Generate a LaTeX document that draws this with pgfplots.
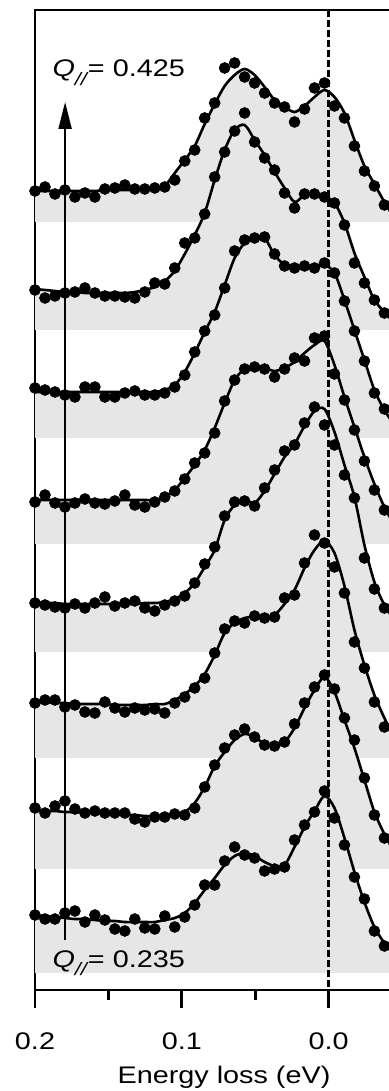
\documentclass[border=0pt]{standalone}
\usepackage{fontspec}
\setmainfont{Liberation Sans}[FakeStretch=1.2]
\usepackage{pgfplots}
\pgfplotsset{compat=1.18}
\usepackage{pgfplotstable}
\usepgfplotslibrary{fillbetween}
\usetikzlibrary{arrows.meta}
\definecolor{fillgray}{RGB}{230,230,230}

% columns: x = energy loss (eV), d = data points, f = fitted curve (offset intensity)
\pgfplotstableread{
x d f
0.2000 75 75
0.1932 71 74
0.1864 71 73
0.1796 77 72
0.1728 79 71
0.1660 68 71
0.1592 75 70
0.1524 70 69
0.1456 61 69
0.1388 59 68
0.1320 71 68
0.1252 62 68
0.1184 61 68
0.1116 74 70
0.1048 63 72
0.0980 73 77
0.0912 85 87
0.0844 105 100
0.0776 105 112
0.0708 129 125
0.0640 143 134
0.0572 135 137
0.0504 132 134
0.0436 119 128
0.0368 121 124
0.0300 123 125
0.0232 150 143
0.0164 165 163
0.0096 178 179
0.0028 199 194
-0.0040 172 182
-0.0108 145 152
-0.0176 113 118
-0.0244 91 88
-0.0312 59 63
-0.0380 44 47
-0.0448 nan 35
}\tSone
\pgfplotstableread{
x d f
0.2000 182 180
0.1932 177 179
0.1864 184 179
0.1796 189 178
0.1728 181 178
0.1660 177 177
0.1592 179 177
0.1524 177 176
0.1456 177 176
0.1388 177 175
0.1320 171 175
0.1252 168 174
0.1184 173 174
0.1116 173 174
0.1048 176 175
0.0980 175 178
0.0912 182 187
0.0844 203 203
0.0776 225 224
0.0708 242 238
0.0640 255 250
0.0572 261 256
0.0504 253 253
0.0436 245 246
0.0368 244 244
0.0300 248 248
0.0232 266 262
0.0164 287 282
0.0096 303 300
0.0028 315 313
-0.0040 301 298
-0.0108 272 270
-0.0176 250 242
-0.0244 212 210
-0.0312 175 178
-0.0380 152 156
-0.0448 nan 138
}\tStwo
\pgfplotstableread{
x d f
0.2000 287 288
0.1932 290 288
0.1864 290 287
0.1796 283 287
0.1728 285 286
0.1660 278 286
0.1592 277 286
0.1524 288 286
0.1456 282 285
0.1388 278 285
0.1320 282 285
0.1252 280 285
0.1184 281 286
0.1116 277 286
0.1048 287 290
0.0980 293 296
0.0912 302 304
0.0844 312 316
0.0776 337 335
0.0708 361 357
0.0640 369 367
0.0572 367 372
0.0504 374 373
0.0436 372 372
0.0368 373 375
0.0300 392 386
0.0232 395 400
0.0164 427 422
0.0096 455 440
0.0028 447 449
-0.0040 423 437
-0.0108 397 404
-0.0176 348 360
-0.0244 322 325
-0.0312 288 295
-0.0380 263 272
-0.0448 nan 252
}\tSthree
\pgfplotstableread{
x d f
0.2000 387 388
0.1932 385 387
0.1864 383 387
0.1796 382 386
0.1728 386 386
0.1660 382 386
0.1592 387 386
0.1524 393 386
0.1456 384 386
0.1388 387 386
0.1320 389 386
0.1252 382 387
0.1184 379 387
0.1116 385 388
0.1048 389 391
0.0980 394 397
0.0912 407 407
0.0844 426 423
0.0776 443 440
0.0708 474 470
0.0640 488 485
0.0572 489 490
0.0504 484 487
0.0436 502 499
0.0368 520 516
0.0300 539 533
0.0232 545 546
0.0164 567 564
0.0096 583 579
0.0028 565 581
-0.0040 545 558
-0.0108 515 525
-0.0176 492 493
-0.0244 432 445
-0.0312 401 408
-0.0380 382 385
-0.0448 nan 370
}\tSfour
\pgfplotstableread{
x d f
0.2000 488 490
0.1932 495 490
0.1864 487 490
0.1796 483 490
0.1728 487 490
0.1660 491 490
0.1592 487 490
0.1524 486 490
0.1456 489 490
0.1388 495 490
0.1320 485 490
0.1252 483 490
0.1184 488 490
0.1116 493 493
0.1048 499 500
0.0980 511 512
0.0912 527 525
0.0844 537 540
0.0776 557 562
0.0708 589 587
0.0640 610 610
0.0572 621 621
0.0504 623 624
0.0436 621 622
0.0368 613 619
0.0300 621 622
0.0232 632 628
0.0164 629 637
0.0096 652 645
0.0028 654 649
-0.0040 616 625
-0.0108 590 593
-0.0176 560 563
-0.0244 529 533
-0.0312 500 506
-0.0380 480 483
-0.0448 nan 465
}\tSfive
\pgfplotstableread{
x d f
0.2000 602 598
0.1932 600 598
0.1864 598 598
0.1796 595 598
0.1728 593 598
0.1660 603 598
0.1592 603 598
0.1524 593 598
0.1456 593 598
0.1388 597 598
0.1320 599 598
0.1252 595 598
0.1184 595 598
0.1116 597 600
0.1048 603 605
0.0980 615 618
0.0912 638 637
0.0844 659 658
0.0776 675 678
0.0708 702 705
0.0640 739 732
0.0572 750 747
0.0504 752 753
0.0436 753 752
0.0368 736 735
0.0300 724 725
0.0232 722 721
0.0164 724 722
0.0096 722 723
0.0028 727 725
-0.0040 717 717
-0.0108 689 690
-0.0176 659 660
-0.0244 629 630
-0.0312 597 600
-0.0380 581 580
-0.0448 nan 565
}\tSsix
\pgfplotstableread{
x d f
0.2000 700 701
0.1932 692 700
0.1864 694 699
0.1796 697 698
0.1728 698 698
0.1660 702 697
0.1592 697 697
0.1524 694 697
0.1456 694 697
0.1388 693 697
0.1320 692 698
0.1252 698 700
0.1184 707 703
0.1116 706 709
0.1048 722 719
0.0980 747 736
0.0912 752 755
0.0844 776 777
0.0776 813 810
0.0708 838 840
0.0640 859 860
0.0572 877 865
0.0504 848 850
0.0436 832 835
0.0368 820 818
0.0300 797 802
0.0232 782 788
0.0164 796 795
0.0096 796 796
0.0028 793 793
-0.0040 787 787
-0.0108 765 767
-0.0176 727 737
-0.0244 707 713
-0.0312 690 690
-0.0380 677 678
-0.0448 nan 667
}\tSseven
\pgfplotstableread{
x d f
0.2000 799 799
0.1932 803 799
0.1864 796 799
0.1796 800 799
0.1728 793 799
0.1660 797 799
0.1592 793 799
0.1524 801 800
0.1456 802 800
0.1388 805 800
0.1320 801 800
0.1252 801 801
0.1184 802 802
0.1116 803 804
0.1048 810 817
0.0980 829 830
0.0912 840 844
0.0844 872 866
0.0776 887 886
0.0708 922 904
0.0640 927 915
0.0572 913 921
0.0504 907 915
0.0436 897 903
0.0368 887 890
0.0300 883 883
0.0232 868 878
0.0164 881 884
0.0096 902 893
0.0028 907 900
-0.0040 884 893
-0.0108 872 877
-0.0176 844 850
-0.0244 819 824
-0.0312 804 806
-0.0380 785 788
-0.0448 nan 772
}\tSeight

\newcommand{\fillspec}[3]{%
  \addplot[draw=none, smooth, name path=f#1, forget plot] table[x=x,y=f]{#2};
  \addplot[draw=none, name path=b#1, forget plot] coordinates {(0.2,#3) (-0.0448,#3)};
  \addplot[fill=fillgray, draw=none, forget plot] fill between[of=f#1 and b#1];
}
\newcommand{\drawspec}[1]{%
  \addplot[black, line width=1.3pt, smooth, forget plot] table[x=x,y=f]{#1};
  \addplot[black, only marks, mark=*, mark size=2.7pt, forget plot] table[x=x,y=d]{#1};
}
\newcommand{\qlab}[1]{{\itshape Q}\raisebox{-4.5pt}{\fontsize{9}{9}\selectfont\itshape //}\kern0.5pt= #1}

\begin{document}
\begin{tikzpicture}
\begin{axis}[
  name=ax, scale only axis, width=189pt, height=490pt,
  x dir=reverse, xmin=-0.0575, xmax=0.2, ymin=0, ymax=980,
  axis line style={line width=1.4pt},
  xtick={0.2,0.1,0}, xticklabels={0.2,0.1,0.0},
  minor xtick={0.15,0.05,-0.05},
  ytick=\empty,
  xtick pos=left, tick align=outside,
  major tick length=9pt, minor tick length=5pt,
  tick style={black, line width=1.4pt},
  tick label style={font=\fontsize{12}{14}\selectfont},
  xticklabel style={yshift=-9pt},
  xlabel={Energy loss (eV)},
  xlabel style={font=\fontsize{12}{14}\selectfont, yshift=-1pt},
]
\fillspec{1}{\tSone}{17}
\fillspec{2}{\tStwo}{121}
\fillspec{3}{\tSthree}{232}
\fillspec{4}{\tSfour}{338}
\fillspec{5}{\tSfive}{446}
\fillspec{6}{\tSsix}{552}
\fillspec{7}{\tSseven}{660}
\fillspec{8}{\tSeight}{768}
\draw[black, line width=1.4pt, dash pattern=on 3.3pt off 1.7pt] (axis cs:0,980) -- (axis cs:0,0);
\draw[black, line width=1pt, -{Triangle[length=13.5pt,width=6.5pt]}] (axis cs:0.1795,50) -- (axis cs:0.1795,888);
\node[anchor=base west, font=\fontsize{12}{14}\selectfont, inner sep=0pt] at (axis cs:0.1883,913) {\qlab{0.425}};
\node[anchor=base west, font=\fontsize{12}{14}\selectfont, inner sep=0pt] at (axis cs:0.1883,23) {\qlab{0.235}};
\drawspec{\tSone}
\drawspec{\tStwo}
\drawspec{\tSthree}
\drawspec{\tSfour}
\drawspec{\tSfive}
\drawspec{\tSsix}
\drawspec{\tSseven}
\drawspec{\tSeight}
\end{axis}
\pgfresetboundingbox
\path[use as bounding box] ([xshift=-17.5pt,yshift=-50.5pt]ax.south west) rectangle ([xshift=-12pt,yshift=5pt]ax.north east);
\end{tikzpicture}
\end{document}
